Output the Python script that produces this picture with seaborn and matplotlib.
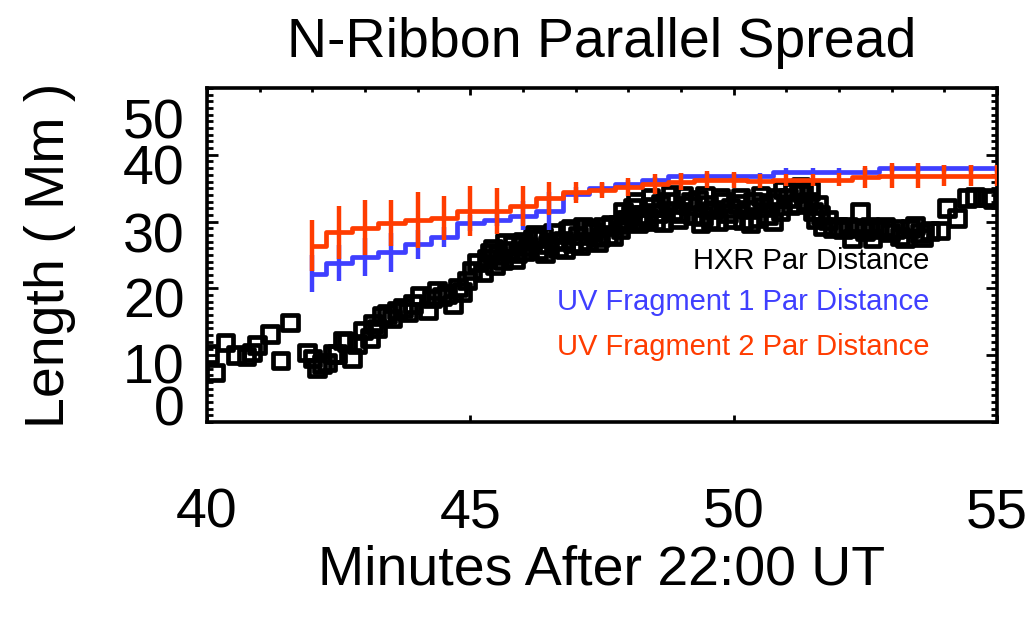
import matplotlib
matplotlib.use("Agg")
import matplotlib.pyplot as plt
from matplotlib.ticker import MultipleLocator, NullLocator
import seaborn as sns

# HXR footpoint parallel distance (minutes after 22:00 UT, Mm)
HXR_TIME = [40.05, 40.15, 40.35, 40.55, 40.75, 40.85, 40.95, 41.2, 41.4, 41.58,
            41.90, 42.0, 42.09, 42.18, 42.28, 42.39, 42.47, 42.58, 42.66, 42.75,
            42.85, 42.96, 43.09, 43.15, 43.23, 43.32, 43.42, 43.51, 43.61, 43.72,
            43.82, 43.91, 44.04, 44.2, 44.27, 44.37, 44.46, 44.56, 44.67, 44.77,
            44.84, 44.94, 45.03, 45.13, 45.24, 45.32, 45.37, 45.43, 45.52, 45.62,
            45.71, 45.81, 45.9, 46.0, 46.09, 46.19, 46.28, 46.38, 46.47, 46.57,
            46.66, 46.76, 46.85, 46.95, 47.04, 47.14, 47.23, 47.33, 47.42, 47.52,
            47.61, 47.71, 47.8, 47.9, 47.99, 48.09, 48.18, 48.28, 48.37, 48.47,
            48.56, 48.66, 48.75, 48.85, 48.94, 49.04, 49.13, 49.23, 49.32, 49.42,
            49.51, 49.61, 49.7, 49.8, 49.89, 49.99, 50.08, 50.18, 50.27, 50.37,
            50.46, 50.56, 50.65, 50.75, 50.84, 50.94, 51.03, 51.13, 51.22, 51.32,
            51.41, 51.51, 51.6, 51.7, 51.79, 51.89, 51.98, 52.08, 52.17, 52.25,
            52.34, 52.4, 52.49, 52.59, 52.64, 52.74, 52.87, 52.97, 53.06, 53.16,
            53.25, 53.35, 53.44, 53.54, 53.59, 53.73, 53.92, 54.05, 54.24, 54.43,
            54.58, 54.81, 54.92,
            # in-between samples of the dense middle stretch
            45.47, 45.66, 45.85, 46.05, 46.23, 46.42, 46.61, 46.8, 46.9, 47.09,
            47.28, 47.47, 47.66, 47.85, 47.94, 48.04, 48.14, 48.23, 48.42, 48.51,
            48.61, 48.8, 48.99, 49.18, 49.37, 49.46, 49.56, 49.75, 49.94, 50.13,
            50.32, 50.51, 50.7, 50.89, 51.08, 51.27, 51.46, 51.55, 51.65]
HXR_LEN = [10.2, 7.4, 11.9, 10.0, 9.8, 10.4, 11.5, 13.2, 9.2, 14.9,
           10.4, 9.5, 8.1, 8.7, 8.9, 10.2, 10.2, 12.2, 12.0, 9.6,
           11.7, 13.7, 12.6, 14.7, 14.0, 15.9, 16.2, 15.5, 16.7, 17.1,
           16.5, 17.7, 18.9, 16.7, 18.5, 19.7, 18.8, 19.2, 17.7, 20.1,
           19.5, 21.2, 22.7, 23.9, 22.4, 24.5, 25.4, 26.0, 25.0, 24.2,
           25.6, 26.5, 25.2, 27.0, 26.3, 27.5, 25.7, 27.8, 26.6, 28.4,
           26.0, 27.2, 28.6, 26.7, 27.9, 29.2, 27.0, 28.5, 26.9, 29.3,
           28.0, 27.8, 29.6, 31.5, 30.2, 32.0, 29.8, 31.0, 30.5, 32.2,
           31.2, 29.9, 33.0, 31.5, 30.3, 33.8, 32.4, 31.0, 33.2, 30.8,
           32.5, 31.8, 30.0, 32.9, 31.2, 30.4, 32.6, 30.2, 31.8, 33.0,
           30.5, 32.2, 31.0, 30.0, 33.5, 34.8, 33.5, 34.5, 32.6, 34.2,
           33.0, 31.5, 32.5, 29.3, 30.2, 29.0, 29.2, 28.8, 29.3, 27.5,
           29.0, 31.4, 28.6, 29.2, 27.5, 28.8, 29.2, 28.4, 28.9, 27.8,
           27.5, 29.0, 29.4, 28.3, 27.6, 28.6, 28.7, 32.0, 30.5, 33.5,
           33.7, 33.6, 33.4,
           23.5, 26.8, 24.4, 25.6, 28.0, 25.2, 27.0, 25.8, 28.9, 26.4,
           29.0, 27.6, 29.5, 28.8, 30.2, 31.0, 33.0, 30.0, 33.6, 30.0,
           32.6, 34.0, 31.2, 33.0, 29.8, 33.8, 30.2, 33.6, 32.0, 33.5,
           29.8, 33.8, 32.8, 31.5, 32.5, 35.2, 34.6, 30.3, 31.0]

# UV fragment parallel distances, every half minute
UV_TIME = [42.0, 42.5, 43.0, 43.5, 44.0, 44.5, 45.0, 45.5, 46.0, 46.5,
           47.0, 47.5, 48.0, 48.5, 49.0, 49.5, 50.0, 50.5, 51.0, 51.5,
           52.0, 52.5, 53.0, 53.5, 54.0, 54.5, 55.0]
UV1_LEN = [22.2, 23.8, 24.7, 25.4, 26.6, 27.7, 29.8, 30.3, 30.9, 31.6,
           34.2, 35.0, 35.7, 36.2, 36.8, 36.8, 36.8, 36.8, 37.5, 37.5,
           37.5, 37.5, 38.0, 38.0, 38.0, 38.0, 38.0]
UV1_ERR = [2.8, 2.7, 2.9, 2.9, 2.2, 1.5, 1.2, 1.0, 2.2, 2.9,
           1.0, 0.8, 0.6, 0.5, 0.5, 0.5, 0.5, 0.5, 0.5, 0.5,
           0.5, 0.5, 0.5, 0.5, 0.5, 0.5, 0.5]
UV2_LEN = [26.4, 28.4, 29.1, 29.8, 30.2, 30.6, 31.6, 31.6, 32.4, 33.5,
           34.4, 34.8, 35.2, 35.7, 36.0, 36.3, 36.3, 36.1, 36.3, 36.3,
           36.3, 36.7, 36.9, 36.9, 36.9, 36.9, 36.9]
UV2_ERR = [3.8, 4.0, 4.1, 3.4, 4.2, 3.3, 3.8, 3.4, 3.0, 2.5,
           1.6, 1.2, 1.4, 1.5, 1.3, 1.3, 1.2, 1.1, 0.9, 0.9,
           1.0, 1.6, 1.8, 1.8, 1.6, 1.6, 1.6]

Y_LABELS = ["0", "10", "20", "30", "40", "50"]
Y_LABEL_POS = [2.4, 8.7, 18.6, 28.4, 38.6, 45.5]
X_TICKS = [40, 45, 50, 55]

BLUE = "#3f3fff"
RED = "#ff3c00"

sns.set_style("ticks")
plt.rcParams["font.family"] = ["Liberation Sans", "DejaVu Sans"]
plt.rcParams.update({"text.color": "black", "axes.labelcolor": "black",
                     "xtick.color": "black", "ytick.color": "black"})

fig = plt.figure(figsize=(10.27, 6.21), dpi=100)
ax = fig.add_axes([207 / 1027, 1 - 422 / 621, 790 / 1027, 334 / 621])

sns.scatterplot(x=HXR_TIME, y=HXR_LEN, marker="s", s=125, fc="none",
                ec="black", linewidth=3.4, ax=ax, zorder=3)

sns.lineplot(x=UV_TIME, y=UV1_LEN, drawstyle="steps-mid", color=BLUE,
             lw=3.4, ax=ax, zorder=4)
ax.errorbar(UV_TIME, UV1_LEN, yerr=UV1_ERR, fmt="none", ecolor=BLUE,
            elinewidth=3.2, capsize=0, zorder=4)
sns.lineplot(x=UV_TIME, y=UV2_LEN, drawstyle="steps-mid", color=RED,
             lw=3.4, ax=ax, zorder=5)
ax.errorbar(UV_TIME, UV2_LEN, yerr=UV2_ERR, fmt="none", ecolor=RED,
            elinewidth=3.2, capsize=0, zorder=5)

ax.set_xlim(40, 55)
ax.set_ylim(0, 50)

# x axis: labelled majors at the bottom, minute ticks along the top
ax.set_xticks(X_TICKS)
ax.xaxis.set_minor_locator(MultipleLocator(1))
ax.tick_params(axis="x", which="major", direction="in", bottom=True, top=True,
               length=5, width=2, labelsize=40, pad=47)
ax.tick_params(axis="x", which="minor", direction="in", bottom=False, top=True,
               length=3, width=2)

# y axis: ticks on the main axes, labels on a secondary axis (IDL-style offsets)
ax.set_yticks([10, 20, 30, 40])
ax.yaxis.set_minor_locator(MultipleLocator(1))
ax.tick_params(axis="y", which="major", direction="in", left=True, right=True,
               labelleft=False, length=8, width=2)
ax.tick_params(axis="y", which="minor", direction="in", left=True, right=True,
               length=4, width=2)

sec = ax.secondary_yaxis("left")
sec.set_yticks(Y_LABEL_POS, labels=Y_LABELS)
sec.yaxis.set_minor_locator(NullLocator())
sec.tick_params(axis="y", length=0, labelsize=40, pad=16)
sec.spines["left"].set_visible(False)
sec.set_ylabel("Length ( Mm )", fontsize=40, labelpad=34)

for sp in ax.spines.values():
    sp.set_visible(True)
    sp.set_linewidth(2.6)
    sp.set_color("black")

ax.set_title("N-Ribbon Parallel Spread", fontsize=40, pad=22)
ax.set_xlabel("Minutes After 22:00 UT", fontsize=40, labelpad=4)

ax.text(0.915, 0.482, "HXR Par Distance", transform=ax.transAxes,
        ha="right", va="center", fontsize=21, color="black")
ax.text(0.915, 0.359, "UV Fragment 1 Par Distance", transform=ax.transAxes,
        ha="right", va="center", fontsize=21, color=BLUE)
ax.text(0.915, 0.225, "UV Fragment 2 Par Distance", transform=ax.transAxes,
        ha="right", va="center", fontsize=21, color=RED)

fig.savefig("out.png", dpi=100)
